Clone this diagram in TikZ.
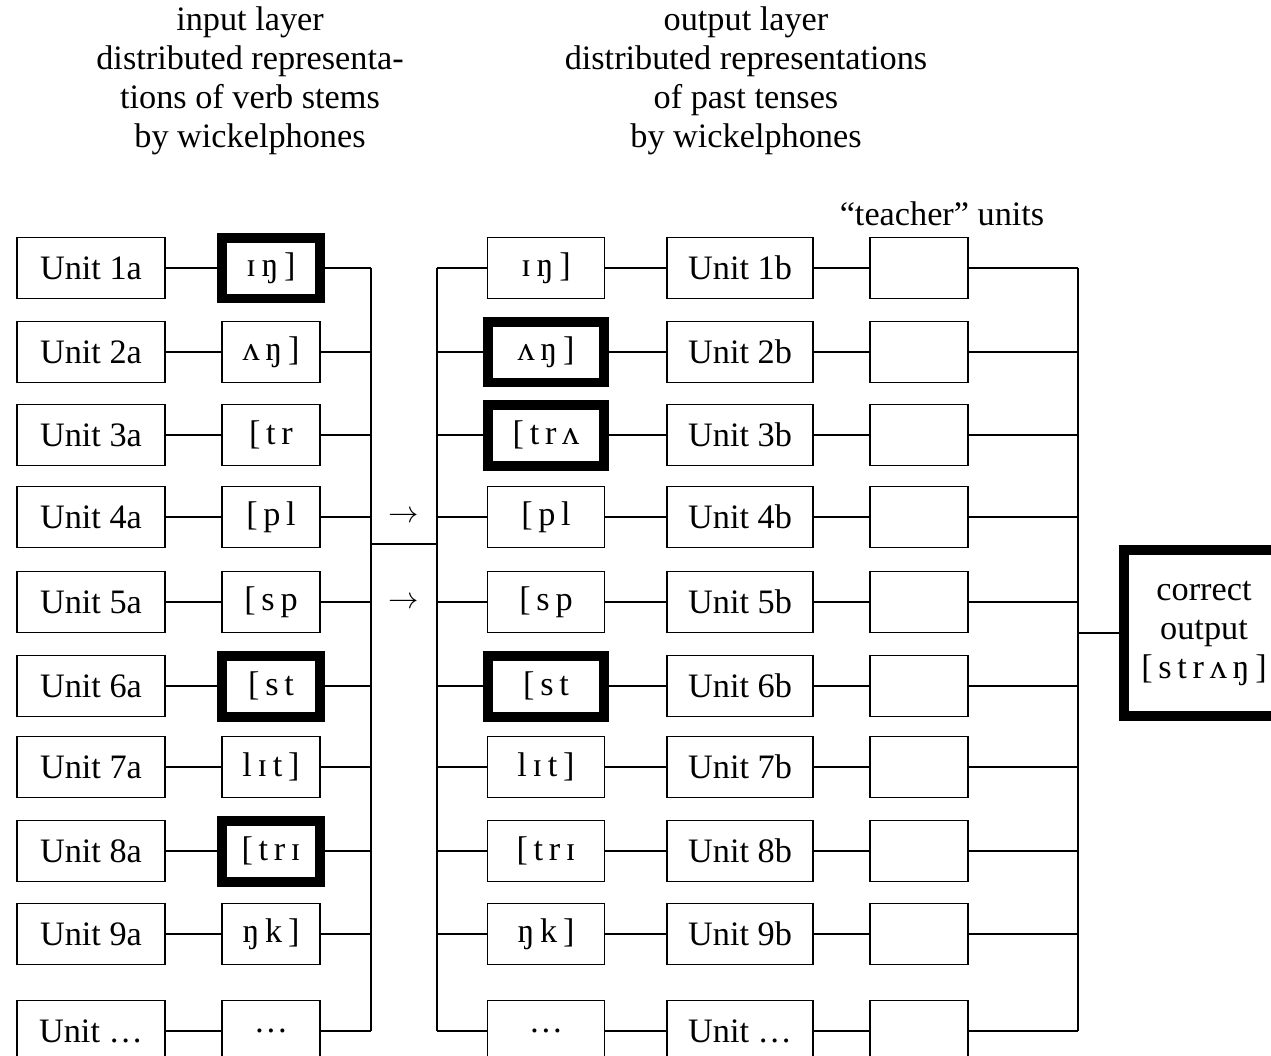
\documentclass[tikz,border=0pt]{standalone}
\usepackage{fontspec}
\setmainfont{Liberation Serif}

\begin{document}
\begin{tikzpicture}[x=0.02cm, y=-0.02cm, line width=0.8pt,
    font=\fontsize{19.5}{22.2}\selectfont,
    unitbox/.style={draw, minimum width=2.96cm, minimum height=1.22cm, inner sep=0pt},
    wbox/.style={draw, minimum width=1.96cm, minimum height=1.22cm, inner sep=0pt},
    wboxout/.style={draw, minimum width=2.34cm, minimum height=1.22cm, inner sep=0pt},
    teacherbox/.style={draw, minimum width=1.96cm, minimum height=1.22cm},
    hot/.style={line width=0.2cm},
    plain/.style={}]
  \useasboundingbox (0,0) rectangle (1271,1055);
  \clip (0,0) rectangle (1271,1055);

  % titles
  \node[align=center] (intitle) at (250,81) {input layer\\distributed representa-\\tions of verb stems\\by wickelphones};
  \node[align=center] (outtitle) at (746,81) {output layer\\distributed representations\\of past tenses\\by wickelphones};
  \node (teachtitle) at (942,214) {“teacher” units};

  % bus lines
  \coordinate (busL) at (371,0);
  \coordinate (busR) at (437,0);
  \coordinate (busT) at (1078,0);

  % one row per unit
  \foreach \y/\ua/\win/\hin/\wout/\hout/\ub [count=\i] in {
      268/Unit 1a/ɪ\,ŋ\,]/hot/ɪ\,ŋ\,]/plain/Unit 1b,
      352/Unit 2a/ʌ\,ŋ\,]/plain/ʌ\,ŋ\,]/hot/Unit 2b,
      435/Unit 3a/[\,t\,r/plain/[\,t\,r\,ʌ/hot/Unit 3b,
      517/Unit 4a/[\,p\,l/plain/[\,p\,l/plain/Unit 4b,
      602/Unit 5a/[\,s\,p/plain/[\,s\,p/plain/Unit 5b,
      686/Unit 6a/[\,s\,t/hot/[\,s\,t/hot/Unit 6b,
      767/Unit 7a/l\,ɪ\,t\,]/plain/l\,ɪ\,t\,]/plain/Unit 7b,
      851/Unit 8a/[\,t\,r\,ɪ/hot/[\,t\,r\,ɪ/plain/Unit 8b,
      934/Unit 9a/ŋ\,k\,]/plain/ŋ\,k\,]/plain/Unit 9b,
      1031/Unit …/…/plain/…/plain/Unit …} {
    \node[unitbox] (ua\i) at (91,\y) {\ua};
    \node[wbox, \hin] (wa\i) at (271,\y) {\win};
    \node[wboxout, \hout] (wb\i) at (546,\y) {\wout};
    \node[unitbox, minimum width=2.92cm] (ub\i) at (740,\y) {\ub};
    \node[teacherbox] (tu\i) at (919,\y) {};
    \draw (ua\i) -- (wa\i);
    \draw (wa\i.east) -- (wa\i.east -| busL);
    \draw (busR |- wb\i.west) -- (wb\i.west);
    \draw (wb\i) -- (ub\i);
    \draw (ub\i) -- (tu\i);
    \draw (tu\i.east) -- (tu\i.east -| busT);
  }
  \draw (wa1.east -| busL) -- (wa10.east -| busL);
  \draw (wb1.west -| busR) -- (wb10.west -| busR);
  \draw (tu1.east -| busT) -- (tu10.east -| busT);

  % link between the layers
  \coordinate (linkL) at (371,544);
  \coordinate (linkR) at (437,544);
  \draw (linkL) -- (linkR);
  \node[font=\fontsize{17}{17}\selectfont] (arrA) at (404,517) {$\rightarrow$};
  \node[font=\fontsize{17}{17}\selectfont] (arrB) at (404,603) {$\rightarrow$};

  % correct output
  \node[draw, hot, align=center, minimum width=3.2cm, minimum height=3.34cm] (target) at (1204,633)
    {correct\\output\\{[\,s\,t\,r\,ʌ\,ŋ\,]}};
  \draw (target.west -| busT) -- (target.west);
\end{tikzpicture}
\end{document}
